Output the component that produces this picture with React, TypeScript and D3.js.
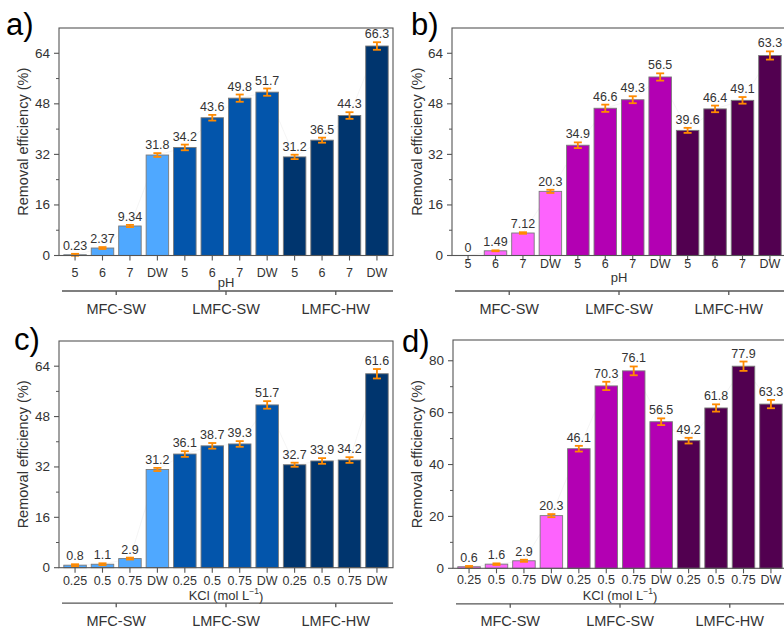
import React from "react";
import * as d3 from "d3";

// Categories and group names
const pHLabels = ["5", "6", "7", "DW", "5", "6", "7", "DW", "5", "6", "7", "DW"];
const kclLabels = ["0.25", "0.5", "0.75", "DW", "0.25", "0.5", "0.75", "DW", "0.25", "0.5", "0.75", "DW"];
const groups = ["MFC-SW", "LMFC-SW", "LMFC-HW"];

// Removal efficiency (%) and error values
const aValues = [0.23, 2.37, 9.34, 31.8, 34.2, 43.6, 49.8, 51.7, 31.2, 36.5, 44.3, 66.3];
const aErrors = [0.3, 0.3, 0.35, 0.6, 0.9, 0.9, 1.15, 1.15, 0.7, 0.8, 1.05, 1.2];
const bValues = [0, 1.49, 7.12, 20.3, 34.9, 46.6, 49.3, 56.5, 39.6, 46.4, 49.1, 63.3];
const bErrors = [0, 0.15, 0.25, 0.5, 0.9, 1.15, 1.1, 1.15, 0.8, 1.05, 1.05, 1.3];
const cValues = [0.8, 1.1, 2.9, 31.2, 36.1, 38.7, 39.3, 51.7, 32.7, 33.9, 34.2, 61.6];
const cErrors = [0.3, 0.3, 0.3, 0.5, 0.9, 0.9, 0.9, 1.2, 0.65, 0.9, 0.9, 1.5];
const dValues = [0.6, 1.6, 2.9, 20.3, 46.1, 70.3, 76.1, 56.5, 49.2, 61.8, 77.9, 63.3];
const dErrors = [0.3, 0.3, 0.4, 0.6, 1.1, 1.6, 1.7, 1.3, 1.1, 1.4, 1.8, 1.6];

const blueColors = ["#4fa8ff", "#0355ab", "#00356e"];
const purpleColors = ["#fd63fd", "#b300b3", "#520050"];

const FONT = "'Liberation Sans', Arial, Helvetica, sans-serif";
const TEXT = "#333333";

type PanelCfg = {
  letter: string;
  letterX: number;
  letterY: number;
  left: number;
  right: number;
  top: number;
  bottom: number;
  yMax: number;
  yStep: number;
  labels: string[];
  values: number[];
  errors: number[];
  colors: string[];
  xTitle: React.ReactNode;
  tickLabelDy: number;
  titleDy: number;
  yTitleX: number;
};

function Panel({ cfg }: { cfg: PanelCfg }) {
  const n = cfg.values.length;
  const x = d3
    .scaleBand<number>()
    .domain(d3.range(n))
    .range([cfg.left, cfg.right])
    .paddingInner(0.18)
    .paddingOuter(0.175);
  const y = d3.scaleLinear().domain([0, cfg.yMax]).range([cfg.bottom, cfg.top]);
  const bw = x.bandwidth();
  const cx = (i: number) => (x(i) as number) + bw / 2;

  const majors = d3.range(0, cfg.yMax + 0.001, cfg.yStep).filter((t) => t < cfg.yMax);
  const minors = d3
    .range(cfg.yStep / 2, cfg.yMax, cfg.yStep)
    .filter((t) => t < cfg.yMax);

  const topLine = d3
    .line<number>()
    .x((_, i) => cx(i))
    .y((v) => y(v))(cfg.values) as string;

  const groupCenters = groups.map((_, g) => d3.mean([0, 1, 2, 3].map((k) => cx(g * 4 + k))) as number);
  const groupLineY = cfg.bottom + 35.5;

  return (
    <g fontFamily={FONT}>
      {/* panel letter */}
      <text x={cfg.letterX} y={cfg.letterY} fontSize={31} fill="#000">
        {cfg.letter}
      </text>

      {/* faint trace through bar tops */}
      <path d={topLine} fill="none" stroke="#f0f0f0" strokeWidth={0.7} />

      {/* bars */}
      {cfg.values.map((v, i) => (
        <rect
          key={"b" + i}
          x={x(i)}
          y={y(v)}
          width={bw}
          height={Math.max(0, cfg.bottom - y(v))}
          fill={cfg.colors[Math.floor(i / 4)]}
          stroke="#7a7a7a"
          strokeWidth={0.9}
        />
      ))}

      {/* error bars */}
      {cfg.values.map((v, i) => {
        const e = cfg.errors[i];
        if (e <= 0) return null;
        const y1 = y(v + e);
        const y2 = y(v - e);
        const c = cx(i);
        return (
          <g key={"e" + i} stroke="#ff8a00" strokeWidth={1.8}>
            <line x1={c} x2={c} y1={y1} y2={y2} />
            <line x1={c - 4} x2={c + 4} y1={y1} y2={y1} />
            <line x1={c - 4} x2={c + 4} y1={y2} y2={y2} />
          </g>
        );
      })}

      {/* value labels */}
      {cfg.values.map((v, i) => (
        <text
          key={"v" + i}
          x={cx(i)}
          y={y(v + cfg.errors[i]) - 4}
          textAnchor="middle"
          fontSize={12.5}
          fill={TEXT}
        >
          {String(v)}
        </text>
      ))}

      {/* frame */}
      <rect
        x={cfg.left}
        y={cfg.top}
        width={cfg.right - cfg.left}
        height={cfg.bottom - cfg.top}
        fill="none"
        stroke="#555"
        strokeWidth={1.1}
      />

      {/* y axis ticks */}
      {majors.map((t) => (
        <g key={"yt" + t}>
          <line x1={cfg.left - 5} x2={cfg.left} y1={y(t)} y2={y(t)} stroke="#555" strokeWidth={1.1} />
          <text
            x={cfg.left - 9}
            y={y(t)}
            textAnchor="end"
            dominantBaseline="central"
            fontSize={13.5}
            fill={TEXT}
          >
            {t}
          </text>
        </g>
      ))}
      {minors.map((t) => (
        <line key={"ym" + t} x1={cfg.left - 3} x2={cfg.left} y1={y(t)} y2={y(t)} stroke="#555" strokeWidth={1} />
      ))}

      {/* x axis ticks and labels */}
      {cfg.labels.map((l, i) => (
        <g key={"xt" + i}>
          <line x1={cx(i)} x2={cx(i)} y1={cfg.bottom} y2={cfg.bottom + 5} stroke="#555" strokeWidth={1.1} />
          <text
            x={cx(i)}
            y={cfg.bottom + cfg.tickLabelDy}
            textAnchor="middle"
            dominantBaseline="central"
            fontSize={12.5}
            fill={TEXT}
          >
            {l}
          </text>
        </g>
      ))}

      {/* x title */}
      <text
        x={(cfg.left + cfg.right) / 2}
        y={cfg.bottom + cfg.titleDy}
        textAnchor="middle"
        dominantBaseline="central"
        fontSize={13}
        fill={TEXT}
      >
        {cfg.xTitle}
      </text>

      {/* y title */}
      <text
        transform={`translate(${cfg.yTitleX},${(cfg.top + cfg.bottom) / 2}) rotate(-90)`}
        textAnchor="middle"
        dominantBaseline="central"
        fontSize={14.5}
        fill={TEXT}
      >
        Removal efficiency (%)
      </text>

      {/* group axis */}
      <line x1={cfg.left + 3} x2={cfg.right} y1={groupLineY} y2={groupLineY} stroke="#555" strokeWidth={1.3} />
      {groups.map((g, k) => (
        <g key={"g" + k}>
          <line
            x1={groupCenters[k]}
            x2={groupCenters[k]}
            y1={groupLineY}
            y2={groupLineY + 4}
            stroke="#555"
            strokeWidth={1.3}
          />
          <text
            x={groupCenters[k]}
            y={groupLineY + 17.5}
            textAnchor="middle"
            dominantBaseline="central"
            fontSize={14.5}
            fill={TEXT}
          >
            {g}
          </text>
        </g>
      ))}
    </g>
  );
}

const kclTitle = (
  <>
    KCl (mol L
    <tspan dy={-5} fontSize={8.5}>
      −1
    </tspan>
    <tspan dy={5}>)</tspan>
  </>
);

const panels: PanelCfg[] = [
  {
    letter: "a)", letterX: 6, letterY: 35,
    left: 59, right: 393, top: 28, bottom: 255.5,
    yMax: 72, yStep: 16,
    labels: pHLabels, values: aValues, errors: aErrors, colors: blueColors,
    xTitle: "pH", tickLabelDy: 17.8, titleDy: 27.2, yTitleX: 23,
  },
  {
    letter: "b)", letterX: 411, letterY: 35,
    left: 452, right: 786, top: 28, bottom: 255.5,
    yMax: 72, yStep: 16,
    labels: pHLabels, values: bValues, errors: bErrors, colors: purpleColors,
    xTitle: "pH", tickLabelDy: 8, titleDy: 22, yTitleX: 417,
  },
  {
    letter: "c)", letterX: 14, letterY: 350,
    left: 59, right: 393, top: 341, bottom: 567.7,
    yMax: 72, yStep: 16,
    labels: kclLabels, values: cValues, errors: cErrors, colors: blueColors,
    xTitle: kclTitle, tickLabelDy: 13, titleDy: 28, yTitleX: 23,
  },
  {
    letter: "d)", letterX: 402, letterY: 352,
    left: 453, right: 787, top: 340, bottom: 568.3,
    yMax: 88, yStep: 20,
    labels: kclLabels, values: dValues, errors: dErrors, colors: purpleColors,
    xTitle: kclTitle, tickLabelDy: 12, titleDy: 27.5, yTitleX: 417,
  },
];

export default function App() {
  return (
    <svg
      width={784}
      height={629}
      style={{ position: "absolute", left: 0, top: 0, background: "#fff" }}
    >
      <rect width={784} height={629} fill="#fff" />
      {panels.map((p) => (
        <Panel key={p.letter} cfg={p} />
      ))}
    </svg>
  );
}
